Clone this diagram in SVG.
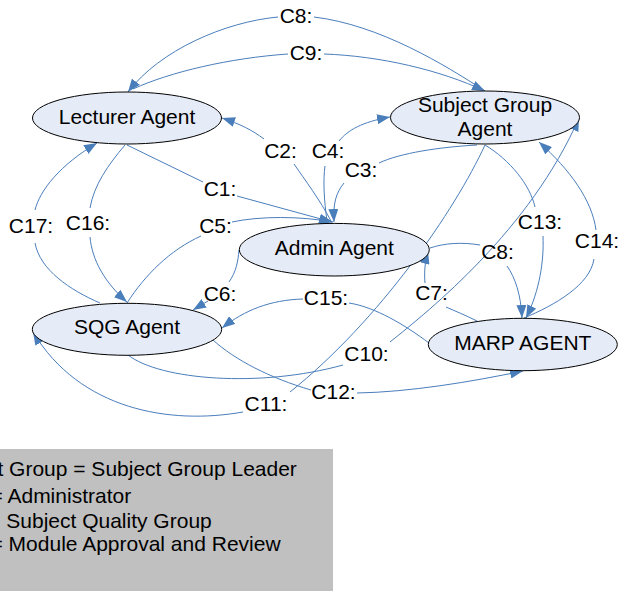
<svg xmlns="http://www.w3.org/2000/svg" width="619" height="591" viewBox="0 0 619 591">
  <style>
    .node ellipse { fill: #E6ECF7; stroke: #000000; stroke-width: 1; }
    .node text { font-family: "Liberation Sans", Arial, sans-serif; font-size: 21px; fill: #000000; text-anchor: middle; }
    .edges path { fill: none; stroke: #4A7EBB; stroke-width: 1; }
    .edges path.to { marker-end: url(#arrow); }
    .label { font-family: "Liberation Sans", Arial, sans-serif; font-size: 21px; fill: #000000; text-anchor: middle; }
    .legend text { font-family: "Liberation Sans", Arial, sans-serif; font-size: 21px; fill: #000000; }
  </style>
  <defs>
    <marker id="arrow" markerUnits="userSpaceOnUse" markerWidth="14" markerHeight="10" refX="13" refY="5" orient="auto">
      <path d="M0,0 L13,5 L0,10 z" fill="#4A7EBB"/>
    </marker>
  </defs>

  <rect width="619" height="591" fill="#FFFFFF"/>

  <!-- connectors: each one is split in two where its label sits -->
  <g id="connectors" class="edges">
    <!-- C8 top: Subject Group -> Lecturer -->
    <path d="M485,91 C445,65 380,25 314,17"/>
    <path class="to" d="M278,17 C225,22 160,50 128,92"/>
    <!-- C9: Lecturer -> Subject Group -->
    <path d="M133,89 C170,72 230,58 288,54"/>
    <path class="to" d="M324,54 C380,56 440,70 485,91"/>
    <!-- C2: Admin -> Lecturer -->
    <path d="M331,221 C320,200 305,180 294,164"/>
    <path class="to" d="M264,139 C252,130 240,124 222,118"/>
    <!-- C4: Admin -> Subject Group -->
    <path d="M327,221 C324,200 323,180 325,166"/>
    <path class="to" d="M339,141 C348,130 362,122 390,117"/>
    <!-- C3: Subject Group -> Admin -->
    <path d="M477,145 C440,147 400,153 379,163"/>
    <path class="to" d="M344,183 C336,193 333,203 334,222"/>
    <!-- C1: Lecturer -> Admin -->
    <path d="M127,145 L203,182"/>
    <path class="to" d="M237,196 L332,222"/>
    <!-- C5: SQG -> Admin -->
    <path d="M127,303 C145,275 170,250 201,236"/>
    <path class="to" d="M232,222 C260,216 300,216 333,222"/>
    <!-- C6: Admin -> SQG -->
    <path d="M239,250 C238,262 236,272 229,282"/>
    <path class="to" d="M208,301 L193,310"/>
    <!-- C15: MARP -> SQG -->
    <path d="M429,343 C405,325 375,307 349,303"/>
    <path class="to" d="M303,299 C270,300 245,310 222,328"/>
    <!-- C7: MARP -> Admin -->
    <path d="M477,321 C465,315 455,311 446,307"/>
    <path class="to" d="M425,283 C424,272 425,262 428,251"/>
    <!-- C8 lower: Admin -> MARP -->
    <path d="M430,248 C445,243 462,242 480,245"/>
    <path class="to" d="M507,266 C515,277 521,295 522,318"/>
    <!-- C13: Subject Group -> MARP -->
    <path d="M485,145 C510,160 530,185 535,207"/>
    <path class="to" d="M543,236 C544,260 540,290 526,318"/>
    <!-- C14: MARP -> Subject Group -->
    <path d="M524,318 C555,305 590,285 594,259"/>
    <path class="to" d="M596,230 C592,200 570,170 539,142"/>
    <!-- C10: SQG -> Subject Group -->
    <path d="M128,355 C160,380 260,388 343,365"/>
    <path class="to" d="M390,342 C430,310 530,230 579,118"/>
    <!-- C11: Subject Group -> SQG -->
    <path d="M485,145 C455,210 380,320 290,392"/>
    <path class="to" d="M243,412 C170,425 80,410 33,332"/>
    <!-- C12: SQG -> MARP -->
    <path d="M213,340 C235,360 270,378 311,390"/>
    <path class="to" d="M357,393 C410,392 470,382 523,371"/>
    <!-- C16: Lecturer -> SQG -->
    <path d="M125,145 C108,165 94,185 90,208"/>
    <path class="to" d="M90,237 C92,260 105,283 127,302"/>
    <!-- C17: SQG -> Lecturer -->
    <path d="M100,303 C70,290 40,270 35,243"/>
    <path class="to" d="M35,210 C40,190 60,165 97,143"/>
  </g>

  <!-- connector labels -->
  <g id="connector-labels">
    <text class="label" x="296" y="22.5">C8:</text>
    <text class="label" x="306" y="60">C9:</text>
    <text class="label" x="280.5" y="157.5">C2:</text>
    <text class="label" x="328" y="157.5">C4:</text>
    <text class="label" x="361" y="176.5">C3:</text>
    <text class="label" x="220" y="195.5">C1:</text>
    <text class="label" x="215.5" y="233">C5:</text>
    <text class="label" x="220" y="300.5">C6:</text>
    <text class="label" x="88" y="230">C16:</text>
    <text class="label" x="31" y="233">C17:</text>
    <text class="label" x="326" y="305">C15:</text>
    <text class="label" x="431.5" y="300">C7:</text>
    <text class="label" x="497.5" y="259">C8:</text>
    <text class="label" x="540" y="229">C13:</text>
    <text class="label" x="597" y="248">C14:</text>
    <text class="label" x="366.5" y="361">C10:</text>
    <text class="label" x="333.5" y="399">C12:</text>
    <text class="label" x="266" y="411">C11:</text>
  </g>

  <!-- agents -->
  <g id="lecturer-agent" class="node">
    <ellipse cx="127" cy="118" rx="94.5" ry="26"/>
    <text x="127" y="124">Lecturer Agent</text>
  </g>
  <g id="subject-group-agent" class="node">
    <ellipse cx="485" cy="117.5" rx="94.5" ry="26.5"/>
    <text x="485" y="112">Subject Group</text>
    <text x="485" y="135.5">Agent</text>
  </g>
  <g id="admin-agent" class="node">
    <ellipse cx="334.3" cy="249.7" rx="95" ry="26.3"/>
    <text x="334.3" y="255">Admin Agent</text>
  </g>
  <g id="sqg-agent" class="node">
    <ellipse cx="127" cy="329.3" rx="94.7" ry="26"/>
    <text x="127" y="334.3">SQG Agent</text>
  </g>
  <g id="marp-agent" class="node">
    <ellipse cx="522.8" cy="344.5" rx="94.5" ry="26.2"/>
    <text x="522.8" y="350">MARP AGENT</text>
  </g>

  <!-- abbreviation key -->
  <g id="legend" class="legend">
    <rect x="0" y="449" width="333" height="142" fill="#C0C0C0"/>
    <text x="-2.6" y="475.7">t Group = Subject Group Leader</text>
    <text x="-9.5" y="502.7">= Administrator</text>
    <text x="6.3" y="527.7">Subject Quality Group</text>
    <text x="-9.5" y="551">= Module Approval and Review</text>
  </g>
</svg>
